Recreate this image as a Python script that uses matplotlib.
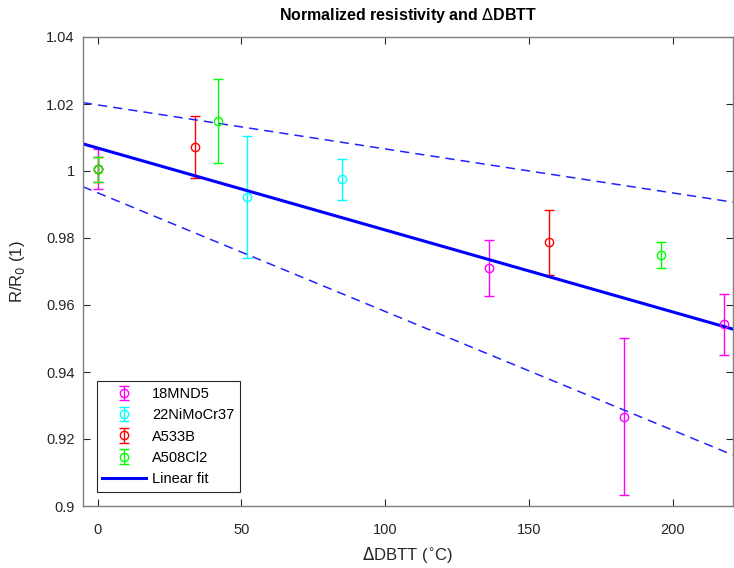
import numpy as np
import matplotlib
matplotlib.use("Agg")
import matplotlib.pyplot as plt

plt.rcParams['font.family'] = ['Liberation Sans', 'DejaVu Sans']

# data
mat_names = ["18MND5", "22NiMoCr37", "A533B", "A508Cl2"]
mat_colors = ["#ff00ff", "#00ffff", "#ff0000", "#00ff00"]

x_18mnd5 = [0, 136, 183, 218]
y_18mnd5 = [1.0005, 0.9710, 0.9267, 0.9543]
e_18mnd5 = [0.006, 0.0083, 0.0234, 0.0091]

x_22nimocr = [52, 85]
y_22nimocr = [0.9923, 0.9975]
e_22nimocr = [0.0182, 0.0062]

x_a533b = [0, 34, 157]
y_a533b = [1.0005, 1.0072, 0.9787]
e_a533b = [0.0037, 0.0093, 0.0097]

x_a508 = [0, 42, 196]
y_a508 = [1.0005, 1.0150, 0.9750]
e_a508 = [0.0038, 0.0125, 0.0039]

# linear fit and its bounds (end points)
fit_x = [-5.1, 221]
fit_y = [1.0081, 0.9528]
upper_y = [1.0204, 0.9907]
lower_y = [0.9953, 0.9152]

xs = [x_18mnd5, x_22nimocr, x_a533b, x_a508]
ys = [y_18mnd5, y_22nimocr, y_a533b, y_a508]
es = [e_18mnd5, e_22nimocr, e_a533b, e_a508]

fig = plt.figure(figsize=(7.34, 5.68), dpi=100)
ax = fig.add_axes([83 / 734, 1 - 506 / 568, 650 / 734, 469 / 568])

handles = []
for x, y, e, c, n in zip(xs, ys, es, mat_colors, mat_names):
    h = ax.errorbar(x, y, yerr=e, fmt="o", color=c, mfc="none", ms=6,
                    elinewidth=1, capsize=3.5, capthick=1, mew=1, label=n)
    handles.append(h)

fl, = ax.plot(fit_x, fit_y, color="#0000ff", lw=2.2, label="Linear fit")
handles.append(fl)
ax.plot(fit_x, upper_y, "--", color="#2222ff", lw=1.1, dashes=(6, 4))
ax.plot(fit_x, lower_y, "--", color="#2222ff", lw=1.1, dashes=(6, 4))

ax.set_xlim(-5.1, 221)
ax.set_ylim(0.9, 1.04)
ax.set_xticks([0, 50, 100, 150, 200])
ax.set_yticks(np.arange(0.9, 1.041, 0.02))
ax.set_yticklabels(["0.9", "0.92", "0.94", "0.96", "0.98", "1", "1.02", "1.04"])

ax.tick_params(direction="in", top=True, right=True, labelsize=10.5,
               colors="#262626", length=5, width=0.8)
ax.tick_params(axis="x", pad=12)
ax.tick_params(axis="y", pad=6)
for s in ax.spines.values():
    s.set_color("#808080")
    s.set_linewidth(1)

ax.set_title("Normalized resistivity and $\\Delta$DBTT", fontsize=11.5,
             fontweight="bold", pad=12)
ax.set_xlabel("$\\Delta$DBTT ($^{\\circ}$C)", fontsize=12, color="#262626",
              labelpad=6)
ax.set_ylabel("R/R$_0$ (1)", fontsize=12, color="#262626", labelpad=14)

leg = ax.legend(handles=handles, labels=mat_names + ["Linear fit"],
                loc="lower left", bbox_to_anchor=(0.021, 0.03), borderaxespad=0,
                fontsize=10.5, fancybox=False, framealpha=1, handlelength=3.0,
                labelspacing=0.5, handletextpad=0.4, borderpad=0.4)
leg.get_frame().set_edgecolor("#262626")
leg.get_frame().set_linewidth(0.8)

fig.savefig("out.png", dpi=100)
